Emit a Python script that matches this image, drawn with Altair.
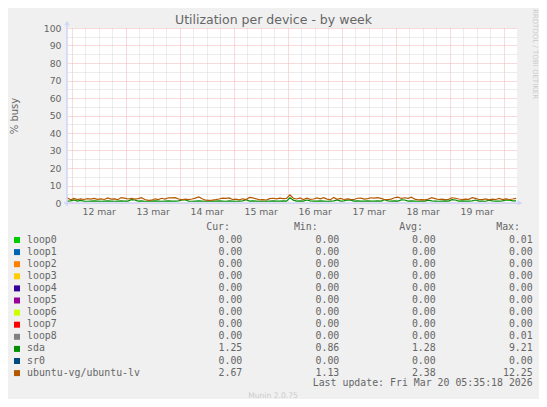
import altair as alt
import pandas as pd

# legend table, as printed under the graph
devices = ["loop0", "loop1", "loop2", "loop3", "loop4", "loop5",
           "loop6", "loop7", "loop8", "sda", "sr0", "ubuntu-vg/ubuntu-lv"]
colors = ["#00CC00", "#0066B3", "#FF8000", "#FFCC00", "#330099", "#990099",
          "#CCFF00", "#FF0000", "#808080", "#008F00", "#00487D", "#B35A00"]
cur = ["0.00", "0.00", "0.00", "0.00", "0.00", "0.00",
       "0.00", "0.00", "0.00", "1.25", "0.00", "2.67"]
mins = ["0.00", "0.00", "0.00", "0.00", "0.00", "0.00",
        "0.00", "0.00", "0.00", "0.86", "0.00", "1.13"]
avgs = ["0.00", "0.00", "0.00", "0.00", "0.00", "0.00",
        "0.00", "0.00", "0.00", "1.28", "0.00", "2.38"]
maxs = ["0.01", "0.00", "0.00", "0.00", "0.00", "0.00",
        "0.00", "0.00", "0.01", "9.21", "0.00", "12.25"]
headers = ["Cur:", "Min:", "Avg:", "Max:"]

# % busy every 90 minutes (the loops and sr0 stay at 0)
lv_busy = [3.0, 1.8, 2.6, 1.9, 2.4, 2.0, 2.5, 2.2, 2.6, 2.1,
           2.3, 2.0, 2.9, 2.2, 2.4, 1.9, 3.1, 2.8, 2.3, 2.6,
           2.2, 2.5, 3.0, 2.0, 1.5, 1.6, 2.4, 1.9, 2.7, 2.2,
           3.0, 2.9, 3.1, 2.3, 1.8, 2.2, 1.9, 2.3, 2.8, 3.5,
           2.4, 1.6, 1.5, 1.6,
           1.9, 2.3, 2.8, 2.6, 2.9, 2.0, 2.2, 1.8, 2.4, 2.0,
           3.2, 2.9, 2.4, 1.8, 2.0, 1.7, 2.5, 2.7, 2.4, 2.8,
           2.5, 2.6, 4.6, 2.7, 2.3, 2.9, 2.0, 2.8, 2.1, 2.3,
           2.9, 2.4, 3.0, 2.2, 1.9, 3.2, 2.1, 2.6, 2.0, 2.4,
           2.1, 2.0, 2.7, 2.8,
           2.2, 2.5, 3.0, 2.8, 3.1, 2.6, 2.0, 1.9, 2.2, 3.0,
           3.3, 2.6, 3.0, 2.7, 3.3, 2.2, 1.8, 1.9, 1.8, 2.3,
           3.0, 2.5, 2.0, 2.2, 1.9, 2.1, 3.0, 2.7, 2.3, 2.0,
           2.2, 2.1, 3.0, 2.6, 2.0, 1.9, 2.3, 1.8, 2.2, 2.0,
           2.6, 1.9, 2.4, 2.0, 2.3, 2.67]
sda_busy = [1.1, 1.2, 1.8, 1.1, 1.5, 1.1, 1.0, 1.1, 1.2, 1.1,
            1.0, 1.1, 1.2, 1.1, 1.0, 1.1, 1.2, 1.1, 1.1, 1.9,
            1.7, 1.1, 1.2, 1.0, 1.0, 1.1, 1.2, 1.1, 1.0, 1.1,
            1.2, 1.1, 1.1, 1.2, 1.8, 1.7, 1.1, 1.0, 1.1, 1.2,
            1.1, 1.0, 1.0, 1.1,
            1.1, 1.2, 1.1, 1.0, 1.2, 1.1, 1.0, 1.1, 1.2, 1.9,
            1.1, 1.2, 1.1, 1.0, 1.1, 1.0, 1.1, 1.2, 1.1, 1.1,
            1.2, 1.1, 3.0, 1.6, 1.1, 1.2, 1.1, 1.7, 1.2, 1.1,
            1.1, 1.2, 1.1, 1.0, 1.1, 1.2, 1.8, 1.1, 1.2, 1.7,
            1.6, 1.1, 1.2, 1.1,
            1.1, 1.2, 1.1, 1.1, 1.2, 1.1, 1.9, 1.2, 1.1, 1.2,
            1.1, 1.8, 1.7, 1.1, 1.2, 1.1, 1.0, 1.1, 1.1, 1.6,
            1.2, 1.1, 1.0, 1.1, 1.2, 1.1, 1.9, 1.7, 1.1, 1.2,
            1.1, 1.1, 1.2, 1.7, 1.1, 1.1, 1.0, 1.6, 1.2, 1.1,
            1.1, 1.2, 1.7, 1.6, 1.2, 1.25]

times = pd.date_range("2026-03-11 22:00", periods=len(lv_busy), freq="90min")
sda_df = pd.DataFrame({"time": times, "busy": sda_busy})
lv_df = pd.DataFrame({"time": times, "busy": lv_busy})
table = pd.DataFrame({"row": range(len(devices)), "name": devices, "color": colors,
                      "cur": cur, "min": mins, "avg": avgs, "max": maxs})

FONT = "DejaVu Sans"
MONO = "DejaVu Sans Mono"
INK = "#666666"
FAINT = "#cccccc"
AXIS = "#CFD6F8"
MGRID = "#f0b4b4"
GRID = "#d9d9d9"

# grid every 6 hours, red at midnight, day label at noon
x_ticks = [alt.DateTime(year=2026, month=3, date=12 + h // 24, hours=h % 24)
           for h in range(0, 8 * 24 + 1, 6)]

x_enc = alt.X(
    "time:T", title=None,
    scale=alt.Scale(domain=[alt.DateTime(year=2026, month=3, date=11, hours=21, minutes=55),
                            alt.DateTime(year=2026, month=3, date=20, hours=5, minutes=55)]),
    axis=alt.Axis(
        values=x_ticks,
        labelExpr="hours(datum.value) == 12 ? lower(timeFormat(datum.value, '%d %b')) : ''",
        labelOverlap=False, labelBound=False, labelFlush=False,
        ticks=False, domain=False, labelPadding=4,
        grid=True, gridDash=[1, 1], gridWidth=1,
        gridColor={"condition": {"test": "hours(datum.value) == 0", "value": MGRID}, "value": GRID},
    ),
)
y_enc = alt.Y(
    "busy:Q", title="% busy",
    scale=alt.Scale(domain=[0, 100], nice=False),
    axis=alt.Axis(
        values=list(range(0, 101, 5)),
        labelExpr="datum.value % 10 == 0 ? datum.label : ''",
        labelOverlap=False, ticks=False, domain=False, labelPadding=6,
        titlePadding=24,
        grid=True, gridDash=[1, 1], gridWidth=1,
        gridColor={"condition": {"test": "datum.value % 10 == 0", "value": MGRID}, "value": GRID},
    ),
)

sda_line = alt.Chart(sda_df).mark_line(strokeWidth=1.2, color="#008F00").encode(x=x_enc, y=y_enc)
lv_line = alt.Chart(lv_df).mark_line(strokeWidth=1.2, color="#B35A00").encode(x=x_enc, y=y_enc)

# rrdtool style axis lines with arrows
y_axis_line = alt.Chart().mark_rule(color=AXIS, strokeWidth=1.5).encode(
    x=alt.value(0), y=alt.value(-4), y2=alt.value(178))
x_axis_line = alt.Chart().mark_rule(color=AXIS, strokeWidth=1.5).encode(
    x=alt.value(-3), x2=alt.value(452), y=alt.value(175))
y_arrow = alt.Chart().mark_point(shape="triangle-up", filled=True, size=28, color=AXIS, opacity=1).encode(
    x=alt.value(0), y=alt.value(-5))
x_arrow = alt.Chart().mark_point(shape="triangle-right", filled=True, size=28, color=AXIS, opacity=1).encode(
    x=alt.value(453), y=alt.value(175))

# legend table below the graph, one line of text per device
row_y = alt.Y("py:Q", scale=None, axis=None)
text_style = dict(font=MONO, fontSize=9.9, color=INK, baseline="alphabetic")
rows = alt.Chart(table).transform_calculate(py="214.5 + datum.row * 12.1")

swatches = rows.mark_square(size=36, opacity=1, yOffset=-2.5).encode(
    x=alt.value(-50), y=row_y, color=alt.Color("color:N", scale=None))
names = rows.mark_text(align="left", **text_style).encode(
    x=alt.value(-40), y=row_y, text="name:N")
columns = []
for field, right in zip(["cur", "min", "avg", "max"], [175.3, 272.3, 368.7, 465.7]):
    columns.append(rows.mark_text(align="right", **text_style).encode(
        x=alt.value(right), y=row_y, text=f"{field}:N"))
for label, right in zip(headers, [163, 250.7, 356, 453]):
    columns.append(alt.Chart(pd.DataFrame({"t": [label]})).mark_text(align="right", **text_style).encode(
        x=alt.value(right), y=alt.value(202.3), text="t:N"))

last_update = alt.Chart(pd.DataFrame({"t": ["Last update: Fri Mar 20 05:35:18 2026"]})).mark_text(
    align="right", **text_style).encode(x=alt.value(465.7), y=alt.value(358), text="t:N")
title = alt.Chart(pd.DataFrame({"t": ["Utilization per device - by week"]})).mark_text(
    font=FONT, fontSize=12.5, color=INK, align="center", baseline="alphabetic").encode(
    x=alt.value(206.5), y=alt.value(-4), text="t:N")
munin = alt.Chart(pd.DataFrame({"t": ["Munin 2.0.75"]})).mark_text(
    font=FONT, fontSize=7.6, color=FAINT, align="center", baseline="alphabetic").encode(
    x=alt.value(206), y=alt.value(369.5), text="t:N")
watermark = alt.Chart(pd.DataFrame({"t": ["RRDTOOL / TOBI OETIKER"]})).mark_text(
    font=FONT, fontSize=7, color=FAINT, align="center", baseline="middle", angle=90).encode(
    x=alt.value(467.5), y=alt.value(26), text="t:N")

chart = alt.layer(
    sda_line, lv_line, y_axis_line, x_axis_line, y_arrow, x_arrow,
    swatches, names, *columns, last_update, title, munin, watermark,
).properties(
    width=450, height=175,
    autosize=alt.AutoSizeParams(type="none"),
    padding={"left": 59, "top": 20, "right": 22, "bottom": 196},
    background="#F0F0F0",
).configure_view(
    stroke=None, fill="white"
).configure_axis(
    labelFont=FONT, labelFontSize=9.3, labelColor=INK,
    titleFont=FONT, titleFontSize=10, titleColor=INK, titleFontWeight="normal",
)

chart.save("out.html", embed_options={"renderer": "svg", "actions": False})
